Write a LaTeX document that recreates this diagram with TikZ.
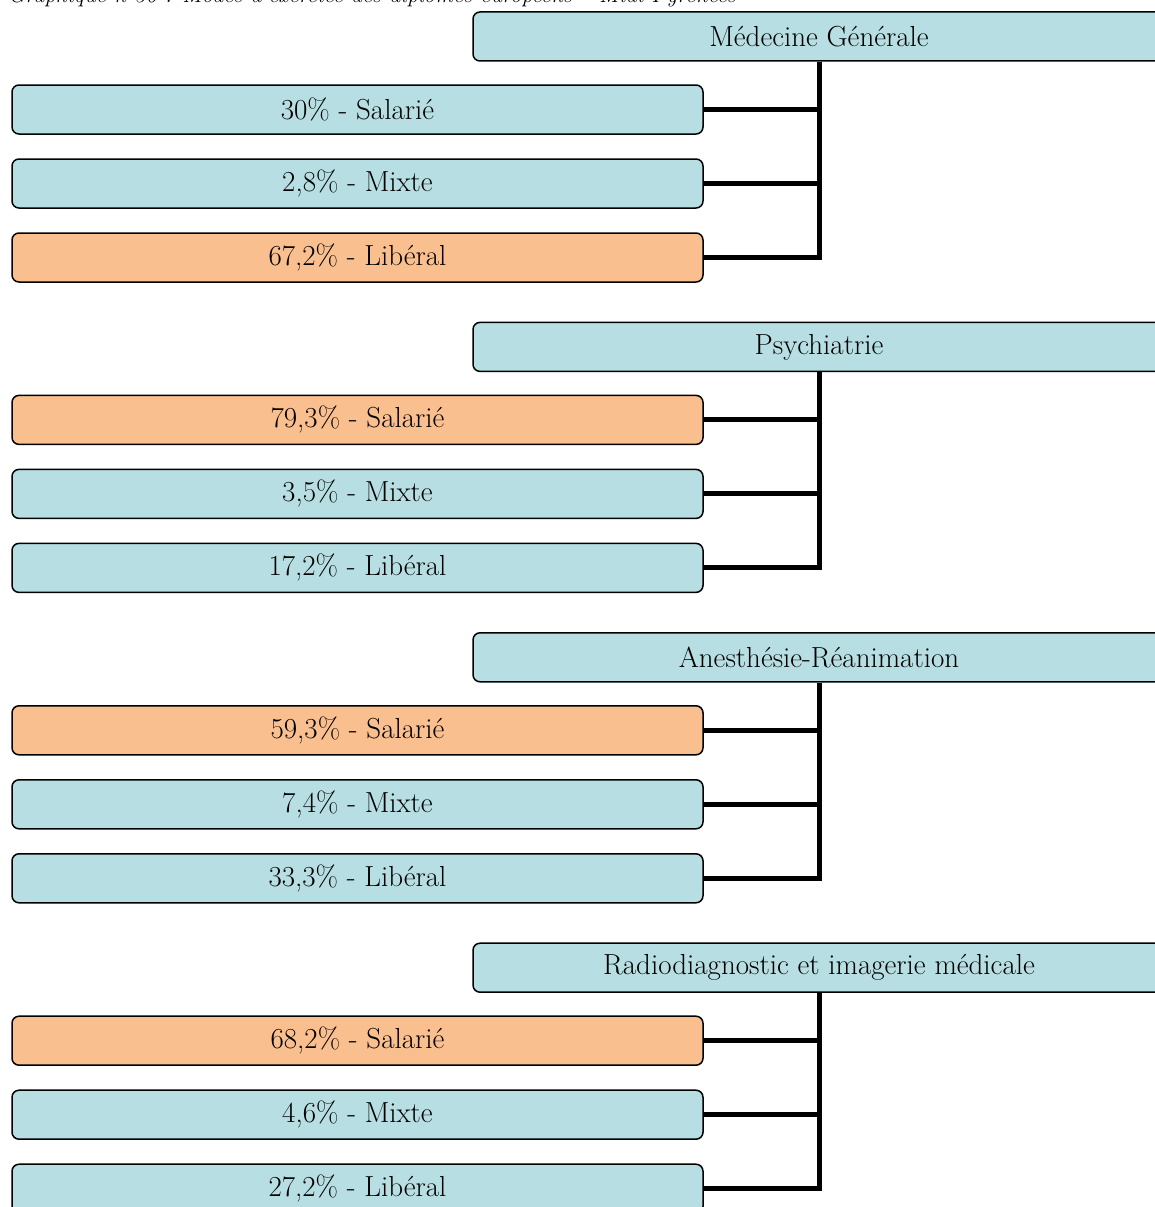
\documentclass[tikz,border=0pt]{standalone}
\usepackage{tikz}
\usetikzlibrary{calc}
\definecolor{boxblue}{RGB}{183,222,226}
\definecolor{boxorange}{RGB}{250,191,143}
\tikzset{
  modebox/.style={
    draw=black, line width=1.5pt, rounded corners=7pt,
    minimum height=49pt, inner sep=0pt, align=center,
    font=\fontsize{29}{34}\selectfont
  },
  cat/.style={modebox, fill=boxblue, minimum width=692pt},
  sub/.style={modebox, fill=boxblue, minimum width=691pt},
  subhi/.style={modebox, fill=boxorange, minimum width=691pt},
  link/.style={draw=black, line width=5pt, line join=miter},
  caption/.style={font=\fontsize{22.5}{27}\selectfont\itshape, inner sep=0pt, anchor=base west}
}

\begin{document}
\begin{tikzpicture}[x=1pt,y=-1pt]
  \useasboundingbox (0,0) rectangle (1155,1207);
  \node[caption] (title) at (8,3) {Graphique n°36 : Modes d'exercice des diplômés européens -- Midi-Pyrénées};
  % one group per specialty: header, three modes, highlighted mode
  \foreach \g/\name/\sa/\mi/\li/\hi in {
      0/{Médecine Générale}/{30\%}/{2,8\%}/{67,2\%}/2,
      1/{Psychiatrie}/{79,3\%}/{3,5\%}/{17,2\%}/0,
      2/{Anesthésie-Réanimation}/{59,3\%}/{7,4\%}/{33,3\%}/0,
      3/{Radiodiagnostic et imagerie médicale}/{68,2\%}/{4,6\%}/{27,2\%}/0} {
    \pgfmathsetmacro\gy{12+310.4*\g}
    \node[cat] (hd\g) at (819,\gy+24.5) {\name};
    \foreach \j/\pct/\mode in {0/\sa/Salarié,1/\mi/Mixte,2/\li/Libéral} {
      \ifnum\j=\hi \def\kind{subhi}\else\def\kind{sub}\fi
      \node[\kind] (s\g-\j) at (357.5,\gy+97.5+74*\j) {\pct{} - \mode};
    }
    \draw[link] (hd\g.south) |- (s\g-2.east);
    \foreach \j in {0,1} \draw[link] (s\g-\j.east) -- (hd\g.south |- s\g-\j.east);
  }
\end{tikzpicture}
\end{document}
